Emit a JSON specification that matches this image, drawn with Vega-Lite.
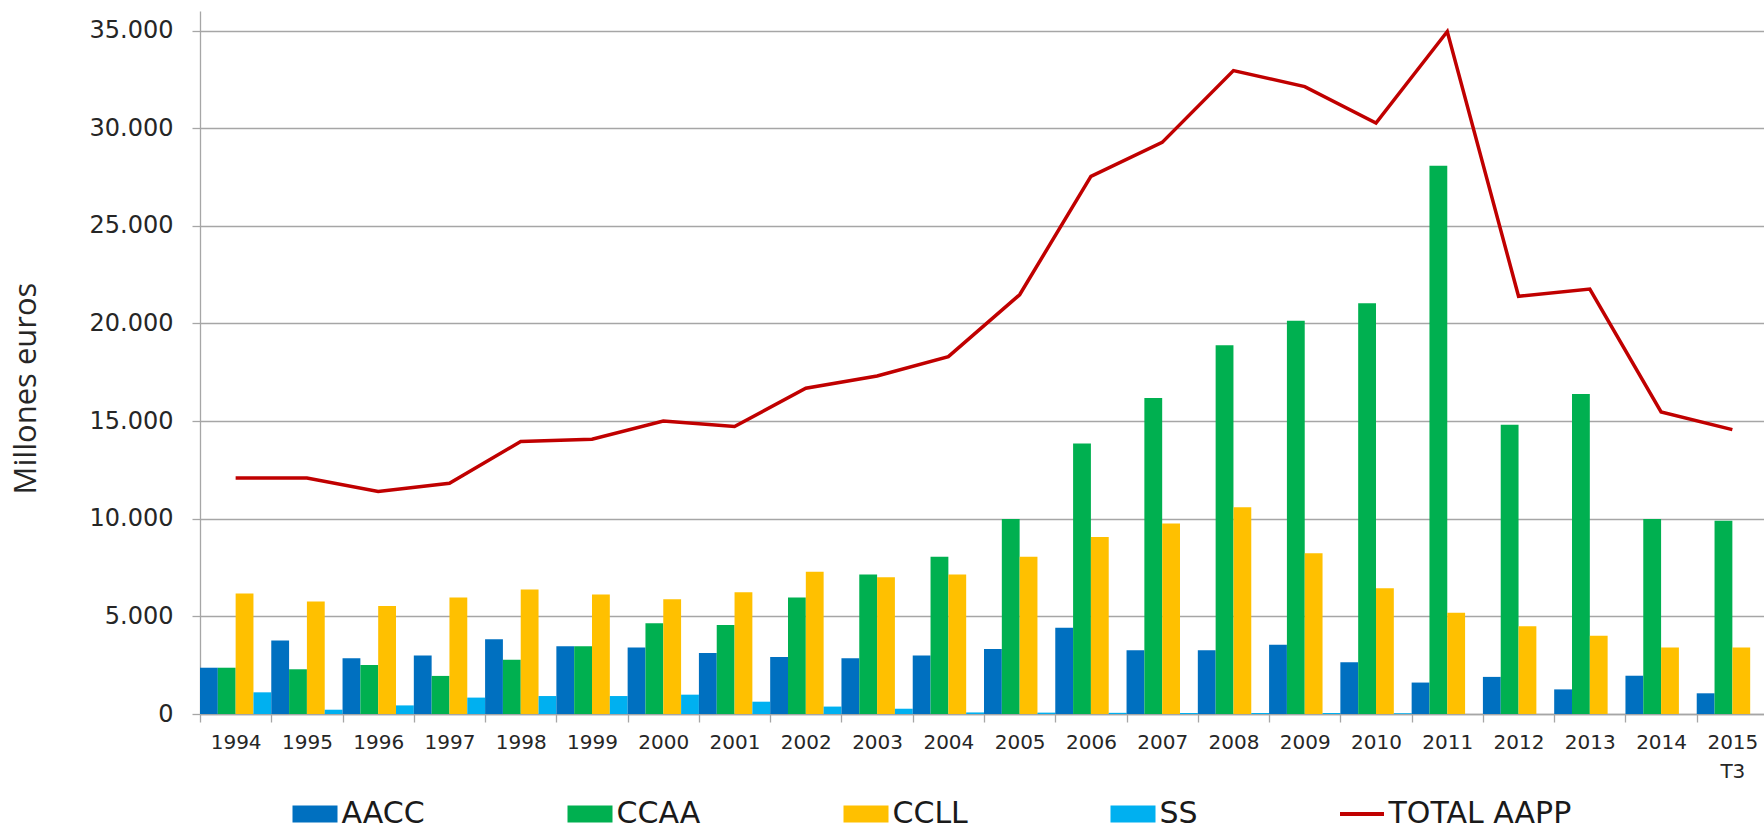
{
  "$schema": "https://vega.github.io/schema/vega-lite/v6.json",
  "width": 1568,
  "height": 703,
  "autosize": {"type": "none"},
  "padding": {"left": 200, "top": 11, "right": 0, "bottom": 115},
  "background": "white",
  "config": {"view": {"stroke": null}, "font": "DejaVu Sans"},
  "data": {"values": [
    {"year": "1994", "serie": "AACC", "value": 2370}, {"year": "1994", "serie": "CCAA", "value": 2370}, {"year": "1994", "serie": "CCLL", "value": 6170}, {"year": "1994", "serie": "SS", "value": 1110}, {"year": "1994", "serie": "TOTAL AAPP", "value": 12080},
    {"year": "1995", "serie": "AACC", "value": 3760}, {"year": "1995", "serie": "CCAA", "value": 2290}, {"year": "1995", "serie": "CCLL", "value": 5760}, {"year": "1995", "serie": "SS", "value": 220}, {"year": "1995", "serie": "TOTAL AAPP", "value": 12080},
    {"year": "1996", "serie": "AACC", "value": 2850}, {"year": "1996", "serie": "CCAA", "value": 2510}, {"year": "1996", "serie": "CCLL", "value": 5530}, {"year": "1996", "serie": "SS", "value": 440}, {"year": "1996", "serie": "TOTAL AAPP", "value": 11390},
    {"year": "1997", "serie": "AACC", "value": 2990}, {"year": "1997", "serie": "CCAA", "value": 1950}, {"year": "1997", "serie": "CCLL", "value": 5960}, {"year": "1997", "serie": "SS", "value": 840}, {"year": "1997", "serie": "TOTAL AAPP", "value": 11820},
    {"year": "1998", "serie": "AACC", "value": 3830}, {"year": "1998", "serie": "CCAA", "value": 2780}, {"year": "1998", "serie": "CCLL", "value": 6370}, {"year": "1998", "serie": "SS", "value": 920}, {"year": "1998", "serie": "TOTAL AAPP", "value": 13950},
    {"year": "1999", "serie": "AACC", "value": 3470}, {"year": "1999", "serie": "CCAA", "value": 3470}, {"year": "1999", "serie": "CCLL", "value": 6120}, {"year": "1999", "serie": "SS", "value": 920}, {"year": "1999", "serie": "TOTAL AAPP", "value": 14070},
    {"year": "2000", "serie": "AACC", "value": 3400}, {"year": "2000", "serie": "CCAA", "value": 4650}, {"year": "2000", "serie": "CCLL", "value": 5880}, {"year": "2000", "serie": "SS", "value": 990}, {"year": "2000", "serie": "TOTAL AAPP", "value": 15000},
    {"year": "2001", "serie": "AACC", "value": 3130}, {"year": "2001", "serie": "CCAA", "value": 4560}, {"year": "2001", "serie": "CCLL", "value": 6230}, {"year": "2001", "serie": "SS", "value": 630}, {"year": "2001", "serie": "TOTAL AAPP", "value": 14720},
    {"year": "2002", "serie": "AACC", "value": 2920}, {"year": "2002", "serie": "CCAA", "value": 5960}, {"year": "2002", "serie": "CCLL", "value": 7280}, {"year": "2002", "serie": "SS", "value": 380}, {"year": "2002", "serie": "TOTAL AAPP", "value": 16680},
    {"year": "2003", "serie": "AACC", "value": 2850}, {"year": "2003", "serie": "CCAA", "value": 7140}, {"year": "2003", "serie": "CCLL", "value": 7000}, {"year": "2003", "serie": "SS", "value": 270}, {"year": "2003", "serie": "TOTAL AAPP", "value": 17310},
    {"year": "2004", "serie": "AACC", "value": 2990}, {"year": "2004", "serie": "CCAA", "value": 8050}, {"year": "2004", "serie": "CCLL", "value": 7140}, {"year": "2004", "serie": "SS", "value": 80}, {"year": "2004", "serie": "TOTAL AAPP", "value": 18300},
    {"year": "2005", "serie": "AACC", "value": 3330}, {"year": "2005", "serie": "CCAA", "value": 9990}, {"year": "2005", "serie": "CCLL", "value": 8050}, {"year": "2005", "serie": "SS", "value": 70}, {"year": "2005", "serie": "TOTAL AAPP", "value": 21470},
    {"year": "2006", "serie": "AACC", "value": 4420}, {"year": "2006", "serie": "CCAA", "value": 13850}, {"year": "2006", "serie": "CCLL", "value": 9070}, {"year": "2006", "serie": "SS", "value": 60}, {"year": "2006", "serie": "TOTAL AAPP", "value": 27530},
    {"year": "2007", "serie": "AACC", "value": 3260}, {"year": "2007", "serie": "CCAA", "value": 16180}, {"year": "2007", "serie": "CCLL", "value": 9750}, {"year": "2007", "serie": "SS", "value": 50}, {"year": "2007", "serie": "TOTAL AAPP", "value": 29270},
    {"year": "2008", "serie": "AACC", "value": 3260}, {"year": "2008", "serie": "CCAA", "value": 18880}, {"year": "2008", "serie": "CCLL", "value": 10590}, {"year": "2008", "serie": "SS", "value": 50}, {"year": "2008", "serie": "TOTAL AAPP", "value": 32950},
    {"year": "2009", "serie": "AACC", "value": 3540}, {"year": "2009", "serie": "CCAA", "value": 20140}, {"year": "2009", "serie": "CCLL", "value": 8230}, {"year": "2009", "serie": "SS", "value": 50}, {"year": "2009", "serie": "TOTAL AAPP", "value": 32130},
    {"year": "2010", "serie": "AACC", "value": 2650}, {"year": "2010", "serie": "CCAA", "value": 21030}, {"year": "2010", "serie": "CCLL", "value": 6440}, {"year": "2010", "serie": "SS", "value": 40}, {"year": "2010", "serie": "TOTAL AAPP", "value": 30260},
    {"year": "2011", "serie": "AACC", "value": 1610}, {"year": "2011", "serie": "CCAA", "value": 28070}, {"year": "2011", "serie": "CCLL", "value": 5190}, {"year": "2011", "serie": "SS", "value": 0}, {"year": "2011", "serie": "TOTAL AAPP", "value": 34950},
    {"year": "2012", "serie": "AACC", "value": 1900}, {"year": "2012", "serie": "CCAA", "value": 14810}, {"year": "2012", "serie": "CCLL", "value": 4490}, {"year": "2012", "serie": "SS", "value": 0}, {"year": "2012", "serie": "TOTAL AAPP", "value": 21390},
    {"year": "2013", "serie": "AACC", "value": 1260}, {"year": "2013", "serie": "CCAA", "value": 16390}, {"year": "2013", "serie": "CCLL", "value": 4010}, {"year": "2013", "serie": "SS", "value": 0}, {"year": "2013", "serie": "TOTAL AAPP", "value": 21760},
    {"year": "2014", "serie": "AACC", "value": 1960}, {"year": "2014", "serie": "CCAA", "value": 9990}, {"year": "2014", "serie": "CCLL", "value": 3400}, {"year": "2014", "serie": "SS", "value": 0}, {"year": "2014", "serie": "TOTAL AAPP", "value": 15470},
    {"year": "2015", "serie": "AACC", "value": 1060}, {"year": "2015", "serie": "CCAA", "value": 9890}, {"year": "2015", "serie": "CCLL", "value": 3400}, {"year": "2015", "serie": "SS", "value": 0}, {"year": "2015", "serie": "TOTAL AAPP", "value": 14560}
  ]},
  "encoding": {
    "x": {
      "field": "year", "type": "nominal", "sort": null,
      "scale": {"paddingInner": 0, "paddingOuter": 0},
      "axis": {
        "title": null, "labelAngle": 0, "tickBand": "extent", "tickSize": 8,
        "tickColor": "#a6a6a6", "domainColor": "#a6a6a6", "domainWidth": 1.3, "tickWidth": 1.3,
        "labelFont": "DejaVu Sans", "labelFontSize": 20, "labelColor": "#262626",
        "labelPadding": 10, "labelLineHeight": 29,
        "labelExpr": "datum.value === '2015' ? ['2015', 'T3'] : datum.label"
      }
    },
    "y": {
      "field": "value", "type": "quantitative",
      "scale": {"domain": [0, 36000], "nice": false},
      "axis": {
        "values": [0, 5000, 10000, 15000, 20000, 25000, 30000, 35000],
        "labelExpr": "replace(format(datum.value, ','), ',', '.')",
        "grid": true, "gridColor": "#a6a6a6", "gridWidth": 1.3,
        "tickSize": 8, "tickColor": "#a6a6a6", "tickWidth": 1.3,
        "domainColor": "#a6a6a6", "domainWidth": 1.3,
        "labelFont": "DejaVu Sans", "labelFontSize": 24, "labelColor": "#262626", "labelPadding": 19,
        "title": "Millones euros", "titleFont": "Open Sans", "titleFontSize": 31, "titleFontWeight": "normal",
        "titleColor": "#262626", "titleX": -174, "titleY": 377, "titleAngle": -90,
        "titleAlign": "center", "titleBaseline": "middle"
      }
    },
    "color": {
      "field": "serie", "type": "nominal",
      "scale": {
        "domain": ["AACC", "CCAA", "CCLL", "SS", "TOTAL AAPP"],
        "range": ["#0070C0", "#00B050", "#FFC000", "#00B0F0", "#C00000"]
      },
      "legend": {
        "orient": "none", "legendX": 100, "legendY": 788, "direction": "horizontal", "columns": 5,
        "title": null, "padding": 0, "labelLimit": 0,
        "labelFont": "DejaVu Sans", "labelFontSize": 30, "labelColor": "#1a1a1a",
        "symbolSize": 400, "symbolType": "M-2.25,-0.85H2.25V0.85H-2.25Z", "symbolStrokeWidth": 0,
        "columnPadding": 142, "labelOffset": 11.5,
        "encode": {
          "symbols": {
            "update": {
              "shape": {"signal": "datum.label === 'TOTAL AAPP' ? 'M-2.2,-0.2H2.2V0.2H-2.2Z' : 'M-2.25,-0.85H2.25V0.85H-2.25Z'"},
              "opacity": {"value": 1}
            }
          }
        }
      }
    }
  },
  "layer": [
    {
      "transform": [{"filter": "datum.serie !== 'TOTAL AAPP'"}],
      "mark": {"type": "bar"},
      "encoding": {
        "xOffset": {
          "field": "serie", "type": "nominal", "sort": ["AACC", "CCAA", "CCLL", "SS"],
          "scale": {"paddingInner": 0, "paddingOuter": 0}
        }
      }
    },
    {
      "transform": [{"filter": "datum.serie === 'TOTAL AAPP'"}],
      "mark": {"type": "line", "strokeWidth": 3.5, "strokeJoin": "miter"}
    }
  ]
}
